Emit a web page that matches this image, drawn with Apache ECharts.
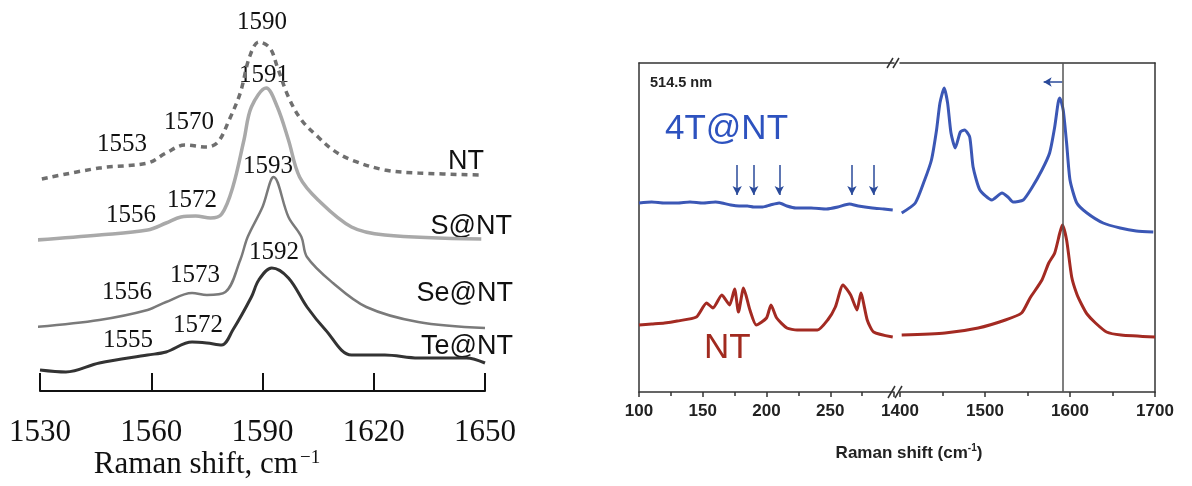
<!DOCTYPE html>
<html><head><meta charset="utf-8">
<script src="https://cdn.jsdelivr.net/npm/echarts@6/dist/echarts.min.js"></script>
<style>html,body{margin:0;padding:0;background:#fff}#c{width:1192px;height:486px}</style>
</head><body><div id="c"></div>
<script>
// ---------- Left panel: G-band spectra (Raman shift, cm-1 ; intensity a.u.) ----------
const ntX   = [1530.5,1546,1559,1564,1569,1575,1578,1581,1584,1586.5,1589,1592,1594,1597,1600.5,1605,1609,1614,1623,1632,1649];
const ntY   = [212,223,228,238,246,244,249,271,298,334,349,343,324,294,271,254,241,231,221,218,216];
const sntX  = [1529,1546,1559,1564,1568,1572,1576,1579,1582,1585,1587,1591,1594,1597,1600,1605,1614,1623,1649];
const sntY  = [151,156,161,168,174,175,173,177,204,251,284,303,284,251,214,191,164,156,152];
const sentX = [1529,1546,1559,1564,1571,1575,1580,1584,1586,1590,1593,1597,1600.5,1602,1609,1618,1632,1650];
const sentY = [64,71,81,89,98,96,99,131,154,184,214,174,154,134,108,84,69,63];
const tentX = [1530,1537,1546,1559,1564,1571,1575,1579,1582,1587,1589,1592.5,1597,1602,1607,1614,1623,1632,1645,1650];
const tentY = [21,19,28,36,39,49,48,46,61,94,111,123,113,84,61,36,36,33,33,28];
const leftTicks = [1530,1560,1590,1620,1650];

// ---------- Right panel: 514.5 nm spectra, broken axis ----------
const blueLowX  = [100,110,120,130,140,150,160,165,172,178.5,185,190,197,203,210,216,223,235,247,256,265,272,283,292,299];
const blueLowY  = [189,190,189,189,190,189,190,189,187,186,186,185,185,187,189,186,184,184,183,185,188,186,184,183,182];
const blueHighX = [1402,1418,1429,1437,1443,1447,1452,1456,1460,1465,1471,1476,1482,1486,1494,1508,1520,1527,1533,1545,1555,1567,1576,1582,1586,1588,1592,1596,1600,1608,1620,1639,1659,1678,1698];
const blueHighY = [179,189,212,232,262,289,304,289,259,244,260,262,255,225,202,192,199,195,190,192,204,222,239,265,289,294,282,249,212,189,179,169,164,161,160];
const redLowX   = [100,110,120,130,145,153,158,165,171,175,178,182,187,192,200,203.5,208,216,224,240,248,254,260,266,271,274,279,284,299];
const redLowY   = [67,68,69,71,75,89,84,97,87,103,80,104,82,67,74,87,74,64,62,62,72,85,107,97,82,99,72,60,55];
const redHighX  = [1402,1453,1492,1524,1543,1553,1567,1575,1582,1588,1591,1596,1602,1608,1614,1620,1630,1643,1660,1700];
const redHighY  = [57,59,64,72,79,94,112,129,139,159,167,152,115,98,87,78,69,60,57,55];
const arrowX    = [177,190,210,267,284];
const refLine   = 1592;

const zip = (xs, ys) => xs.map((x, i) => [x, ys[i]]);

const serif = '"Liberation Serif", "DejaVu Serif", serif';
const sans = '"Liberation Sans", Arial, sans-serif';

const chart = echarts.init(document.getElementById('c'), null, {renderer: 'canvas'});

const peakLabels = [
  ['1590', 262, 22], ['1591', 264, 75], ['1553', 122, 144], ['1570', 189, 122],
  ['1593', 268, 166], ['1556', 131, 215], ['1572', 192, 200],
  ['1592', 274, 252], ['1556', 127, 292], ['1573', 195, 275],
  ['1555', 128, 340], ['1572', 198, 325]
];
const curveLabels = [['NT', 484, 162], ['S@NT', 512, 227], ['Se@NT', 513, 294], ['Te@NT', 513, 347]];

const graphics = [];
peakLabels.forEach(p => graphics.push({type: 'text', x: p[1], y: p[2], silent: true,
  style: {text: p[0], font: '25px ' + serif, fill: '#111', textAlign: 'center', textVerticalAlign: 'middle'}}));
curveLabels.forEach(p => graphics.push({type: 'text', x: p[1], y: p[2], silent: true,
  style: {text: p[0], font: '27px ' + sans, fill: '#111', textAlign: 'right', textVerticalAlign: 'middle'}}));
graphics.push({type: 'text', x: 207, y: 465, silent: true,
  style: {text: '{a|Raman shift, cm}{s|−1}', textAlign: 'center', textVerticalAlign: 'middle',
    rich: {a: {font: '31px ' + serif, fill: '#111'}, s: {font: '19px ' + serif, fill: '#111', verticalAlign: 'top', padding: [0,0,14,2]}}}});
// right panel texts
graphics.push({type: 'text', x: 650, y: 83, silent: true,
  style: {text: '514.5 nm', font: 'bold 14.5px ' + sans, fill: '#222', textVerticalAlign: 'middle'}});
graphics.push({type: 'text', x: 665, y: 129, silent: true,
  style: {text: '4T@NT', font: '35px ' + sans, fill: '#2d52bf', textVerticalAlign: 'middle'}});
graphics.push({type: 'text', x: 704, y: 348, silent: true,
  style: {text: 'NT', font: '35px ' + sans, fill: '#a12a1f', textVerticalAlign: 'middle'}});
graphics.push({type: 'text', x: 909, y: 453, silent: true,
  style: {text: '{a|Raman shift (cm}{s|-1}{a|)}', textAlign: 'center', textVerticalAlign: 'middle',
    rich: {a: {font: 'bold 17px ' + sans, fill: '#222'}, s: {font: 'bold 10px ' + sans, fill: '#222', verticalAlign: 'top', padding: [0,0,9,0]}}}});
// axis break marks
[[888,398,895,386],[895,398,902,386],[887,68,893,58],[893,68,899,58]].forEach(l => graphics.push({
  type: 'line', silent: true, shape: {x1: l[0], y1: l[1], x2: l[2], y2: l[3]}, style: {stroke: '#333', lineWidth: 1.5}}));

const rAxisLine = {show: true, lineStyle: {color: '#333', width: 1.5}};

chart.setOption({
  animation: false,
  backgroundColor: '#fff',
  grid: [
    {left: 40, width: 445, top: 0, height: 391},
    {left: 639, width: 255, top: 63, height: 329},
    {left: 900, width: 255, top: 63, height: 329}
  ],
  xAxis: [
    {gridIndex: 0, type: 'value', min: 1530, max: 1650, interval: 30,
      axisLine: {show: true, lineStyle: {color: '#111', width: 2}},
      axisTick: {show: true, inside: true, length: 18, lineStyle: {color: '#111', width: 2}},
      axisLabel: {margin: 26, fontFamily: serif, fontSize: 31, color: '#111',
        formatter: v => leftTicks.includes(v) ? String(v) : ''},
      splitLine: {show: false}},
    {gridIndex: 1, type: 'value', min: 100, max: 300, interval: 50,
      axisLine: rAxisLine,
      axisTick: {show: true, length: 5, lineStyle: {color: '#333', width: 1.5}},
      minorTick: {show: true, splitNumber: 2, length: 4, lineStyle: {color: '#333', width: 1.5}},
      axisLabel: {margin: 11, fontFamily: sans, fontWeight: 'bold', fontSize: 17, color: '#222',
        formatter: v => v === 300 ? '' : String(v)},
      splitLine: {show: false}},
    {gridIndex: 2, type: 'value', min: 1400, max: 1700, interval: 100,
      axisLine: rAxisLine,
      axisTick: {show: true, length: 5, lineStyle: {color: '#333', width: 1.5}},
      minorTick: {show: true, splitNumber: 2, length: 4, lineStyle: {color: '#333', width: 1.5}},
      axisLabel: {margin: 11, fontFamily: sans, fontWeight: 'bold', fontSize: 17, color: '#222',
        formatter: v => String(v)},
      splitLine: {show: false}},
    {gridIndex: 1, type: 'value', position: 'top', min: 100, max: 300,
      axisLine: rAxisLine, axisTick: {show: false}, axisLabel: {show: false}, splitLine: {show: false}},
    {gridIndex: 2, type: 'value', position: 'top', min: 1400, max: 1700,
      axisLine: rAxisLine, axisTick: {show: false}, axisLabel: {show: false}, splitLine: {show: false}}
  ],
  yAxis: [
    {gridIndex: 0, type: 'value', min: 0, max: 391, show: false},
    {gridIndex: 1, type: 'value', min: 0, max: 329, axisLine: rAxisLine, axisTick: {show: false},
      axisLabel: {show: false}, splitLine: {show: false}},
    {gridIndex: 2, type: 'value', min: 0, max: 329, position: 'right', axisLine: rAxisLine,
      axisTick: {show: false}, axisLabel: {show: false}, splitLine: {show: false}}
  ],
  series: [
    {name: 'NT', type: 'line', xAxisIndex: 0, yAxisIndex: 0, data: zip(ntX, ntY), smooth: 0.35,
      showSymbol: false, lineStyle: {color: '#6f6f6f', width: 3.5, type: [6, 5]}},
    {name: 'S@NT', type: 'line', xAxisIndex: 0, yAxisIndex: 0, data: zip(sntX, sntY), smooth: 0.35,
      showSymbol: false, lineStyle: {color: '#a9a9a9', width: 3.5}},
    {name: 'Se@NT', type: 'line', xAxisIndex: 0, yAxisIndex: 0, data: zip(sentX, sentY), smooth: 0.35,
      showSymbol: false, lineStyle: {color: '#7a7a7a', width: 2.5}},
    {name: 'Te@NT', type: 'line', xAxisIndex: 0, yAxisIndex: 0, data: zip(tentX, tentY), smooth: 0.35,
      showSymbol: false, lineStyle: {color: '#333', width: 3}},
    {name: '4T@NT low', type: 'line', xAxisIndex: 1, yAxisIndex: 1, data: zip(blueLowX, blueLowY),
      smooth: 0.2, showSymbol: false, lineStyle: {color: '#3b57b5', width: 3},
      markLine: {silent: true, symbol: ['none', 'arrow'], symbolSize: [7, 9], label: {show: false},
        lineStyle: {color: '#2a4a9a', width: 1.5, type: 'solid'},
        data: arrowX.map(x => [{coord: [x, 227]}, {coord: [x, 197]}])}},
    {name: '4T@NT high', type: 'line', xAxisIndex: 2, yAxisIndex: 2, data: zip(blueHighX, blueHighY),
      smooth: 0.2, showSymbol: false, lineStyle: {color: '#3b57b5', width: 3},
      markLine: {silent: true, symbol: ['none', 'arrow'], symbolSize: [7, 8], label: {show: false},
        lineStyle: {color: '#2a4a9a', width: 1.5, type: 'solid'},
        data: [[{coord: [1591, 310]}, {coord: [1569, 310]}]]}},
    {name: 'NT low', type: 'line', xAxisIndex: 1, yAxisIndex: 1, data: zip(redLowX, redLowY),
      smooth: 0.2, showSymbol: false, lineStyle: {color: '#a32a22', width: 3}},
    {name: 'NT high', type: 'line', xAxisIndex: 2, yAxisIndex: 2, data: zip(redHighX, redHighY),
      smooth: 0.2, showSymbol: false, lineStyle: {color: '#a32a22', width: 3},
      markLine: {silent: true, symbol: 'none', label: {show: false},
        lineStyle: {color: '#555', width: 1.5, type: 'solid'}, data: [{xAxis: refLine}]}}
  ],
  graphic: graphics
});
</script></body></html>
